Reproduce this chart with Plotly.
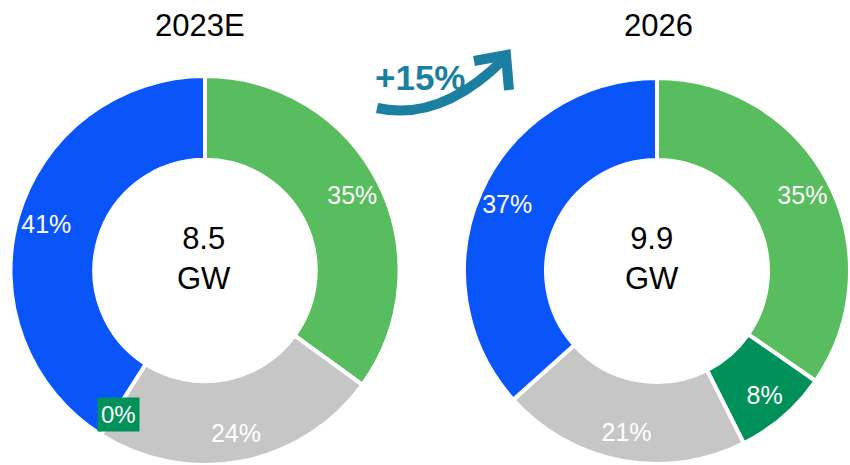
import plotly.graph_objects as go

categories = ["Green", "Dark green", "Grey", "Blue"]
values_2023 = [35, 0, 24, 41]
values_2026 = [35, 8, 21, 37]
totals = ["8.5", "9.9"]
titles = ["2023E", "2026"]
growth_label = "+15%"

colors = ["#57BD5E", "#00905A", "#C6C6C6", "#0A55FA"]
FONT = "Arial, Liberation Sans, sans-serif"
W, H = 850, 465
TEXT_HOLE = 0.70
pies = [  # (centre x, centre y, radius)
    (205, 271, 195),
    (657, 271, 193),
]
HOLE_R = 111


def dom(cx, cy, r):
    return dict(x=[max(0, (cx - r) / W), min(1, (cx + r) / W)],
                y=[max(0, (H - (cy + r)) / H), min(1, (H - (cy - r)) / H)])


fig = go.Figure()
for vals, (cx, cy, r) in zip([values_2023, values_2026], pies):
    # coloured ring
    fig.add_trace(go.Pie(
        labels=categories, values=vals, sort=False, direction="clockwise",
        rotation=0, hole=HOLE_R / r, domain=dom(cx, cy, r),
        marker=dict(colors=colors, line=dict(color="white", width=4)),
        textinfo="none", showlegend=False, hoverinfo="label+percent",
    ))
    # transparent ring carrying the percentage labels (placed further out)
    fig.add_trace(go.Pie(
        labels=categories, values=vals, sort=False, direction="clockwise",
        rotation=0, hole=TEXT_HOLE, domain=dom(cx, cy, r),
        marker=dict(colors=["rgba(0,0,0,0)"] * len(vals),
                    line=dict(color="rgba(0,0,0,0)", width=0)),
        texttemplate="%{percent:.0%}",
        textposition=["inside" if v > 0 else "none" for v in vals],
        insidetextorientation="horizontal",
        textfont=dict(family=FONT, size=25, color="white"),
        showlegend=False, hoverinfo="skip",
    ))

# hidden pixel-space axes for decorations
fig.update_layout(
    xaxis=dict(range=[0, W], visible=False, domain=[0, 1], fixedrange=True),
    yaxis=dict(range=[H, 0], visible=False, domain=[0, 1], fixedrange=True),
)

ann = []
for t, tx in zip(titles, [200, 658]):
    ann.append(dict(x=tx, y=25, xref="x", yref="y", text=t, showarrow=False,
                    font=dict(family=FONT, size=31, color="black")))
for tot, tx in zip(totals, [204, 652]):
    ann.append(dict(x=tx, y=258, xref="x", yref="y", text=f"{tot}<br>GW",
                    showarrow=False,
                    font=dict(family=FONT, size=31, color="black")))
# zero-slice label
zero_idx = values_2023.index(0)
ann.append(dict(x=118, y=414, xref="x", yref="y",
                text=f"{values_2023[zero_idx]}%", showarrow=False,
                bgcolor=colors[1], borderpad=3,
                font=dict(family=FONT, size=24, color="white")))
ann.append(dict(x=420, y=77, xref="x", yref="y", text=f"<b>{growth_label}</b>",
                showarrow=False, font=dict(family=FONT, size=35, color="#1A7FA0")))

shapes = [
    dict(type="path", xref="x", yref="y", path="M 377,108 Q 440,122 503,60",
         line=dict(color="#1A7FA0", width=10)),
    dict(type="path", xref="x", yref="y", path="M 474,61 L 506,55 L 509,90",
         line=dict(color="#1A7FA0", width=10)),
]

fig.update_layout(
    width=W, height=H, margin=dict(l=0, r=0, t=0, b=0),
    paper_bgcolor="white", plot_bgcolor="white",
    annotations=ann, shapes=shapes,
)

fig.write_html("out.html", config={"displayModeBar": False},
               post_script="document.body.style.margin='0';"
                           "document.body.style.overflow='hidden';")
